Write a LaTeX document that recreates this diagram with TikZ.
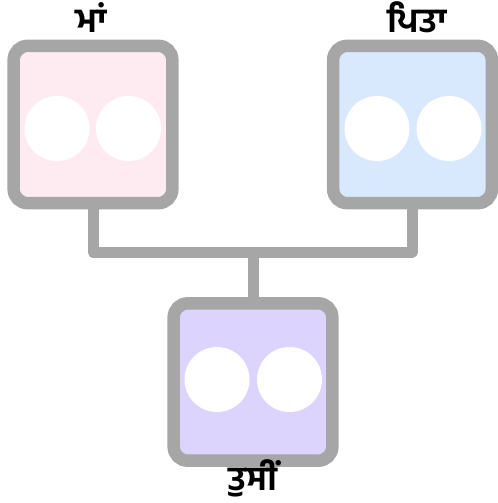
\documentclass[tikz,border=0pt]{standalone}
\usepackage{fontspec}
\newfontfamily\gurfont[Script=Gurmukhi,BoldFont={Hind Jalandhar Bold}]{Hind Jalandhar}
\definecolor{frame}{HTML}{A6A6A6}
\definecolor{momfill}{HTML}{FDEBF1}
\definecolor{dadfill}{HTML}{D9E9FD}
\definecolor{youfill}{HTML}{DDD4FE}

\begin{document}
\begin{tikzpicture}[x=0.75pt,y=-0.75pt,
    person/.style={draw=frame,line width=9.4pt,rounded corners=10.5pt,minimum width=119pt,minimum height=118pt,inner sep=0pt},
    eye/.style={circle,fill=white,minimum size=48.75pt,inner sep=0pt},
    tag/.style={font=\gurfont\bfseries\fontsize{25}{30}\selectfont,inner sep=0pt,anchor=base},
    link/.style={draw=frame,line width=8.25pt,line join=round}]
    \useasboundingbox (0,0) rectangle (497,503);

    \node[person,fill=momfill] (mother) at (93,124.5) {};
    \node[person,fill=dadfill] (father) at (412.5,124.5) {};
    \node[person,fill=youfill] (you) at (253,382) {};

    \node[eye] (mother left) at (57,128.5) {};
    \node[eye] (mother right) at (128.5,128.5) {};
    \node[eye] (father left) at (377,128.5) {};
    \node[eye] (father right) at (449,128.5) {};
    \node[eye] (you left) at (217,379.5) {};
    \node[eye] (you right) at (289.5,379.5) {};

    \node[tag] (mother tag) at (91,33) {ਮਾਂ};
    \node[tag] (father tag) at (417,33) {ਪਿਤਾ};
    \node[tag] (you tag) at (253,490) {ਤੁਸੀਂ};

    \coordinate (joint) at (253,252);
    \draw[link] (mother) |- (joint) -| (father);
    \draw[link] (joint) -- (you);
\end{tikzpicture}
\end{document}
